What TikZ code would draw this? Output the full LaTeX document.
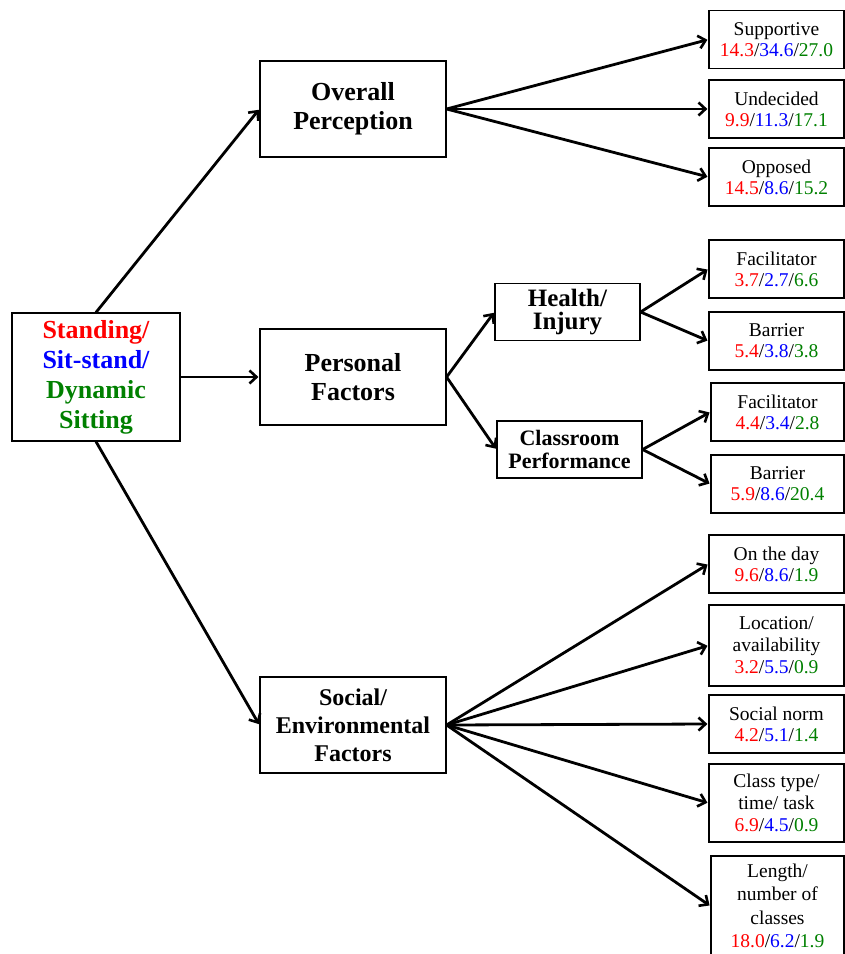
\documentclass[tikz,border=0pt]{standalone}
\usepackage{fontspec}
\setmainfont{Liberation Serif}
\usetikzlibrary{arrows.meta}
\definecolor{sred}{RGB}{255,0,0}
\definecolor{sblue}{RGB}{0,0,255}
\definecolor{sgreen}{RGB}{0,128,0}
\newcommand{\trio}[3]{\textcolor{sred}{#1}/\textcolor{sblue}{#2}/\textcolor{sgreen}{#3}}
\tikzset{
  box/.style={draw, line width=1.2pt, align=center, inner sep=0pt},
  bigbox/.style={box, minimum width=186pt, minimum height=96pt, font=\fontsize{26}{29}\selectfont\bfseries},
  subbox/.style={box, minimum width=145pt, minimum height=57pt},
  leafbox/.style={box, minimum width=135pt, minimum height=58pt, font=\fontsize{19.5}{21}\selectfont},
  link/.style={line width=2.8pt, shorten >=1pt, -{Straight Barb[length=7pt,width=13pt,line width=2.6pt]}}
}

\begin{document}
\begin{tikzpicture}[x=1pt,y=-1pt]
\useasboundingbox (0,0) rectangle (845,954);

\node[box, minimum width=168pt, minimum height=128pt, font=\fontsize{26}{30}\selectfont\bfseries] (main) at (96,377)
  {\textcolor{sred}{Standing/}\\\textcolor{sblue}{Sit-stand/}\\\textcolor{sgreen}{Dynamic}\\\textcolor{sgreen}{Sitting}};

\node[bigbox] (overall) at (353,109) {Overall\\Perception};
\node[bigbox] (personal) at (353,377) {Personal\\Factors};
\node[bigbox, font=\fontsize{24}{28}\selectfont\bfseries] (social) at (353,725) {Social/\\Environmental\\Factors};

\node[subbox, font=\fontsize{25}{23}\selectfont\bfseries] (health) at (567.5,312) {Health/\\Injury};
\node[subbox, font=\fontsize{22}{23}\selectfont\bfseries] (classroom) at (569.5,449.5) {Classroom\\Performance};

\node[leafbox] (supportive) at (776.5,39.5) {Supportive\\\trio{14.3}{34.6}{27.0}};
\node[leafbox] (undecided) at (776.5,109) {Undecided\\\trio{9.9}{11.3}{17.1}};
\node[leafbox] (opposed) at (776.5,177) {Opposed\\\trio{14.5}{8.6}{15.2}};

\node[leafbox] (facA) at (776.5,269) {Facilitator\\\trio{3.7}{2.7}{6.6}};
\node[leafbox] (barA) at (776.5,341) {Barrier\\\trio{5.4}{3.8}{3.8}};
\node[leafbox, minimum width=133pt] (facB) at (777.5,412) {Facilitator\\\trio{4.4}{3.4}{2.8}};
\node[leafbox, minimum width=133pt] (barB) at (777.5,484) {Barrier\\\trio{5.9}{8.6}{20.4}};

\node[leafbox] (onday) at (776.5,564) {On the day\\\trio{9.6}{8.6}{1.9}};
\node[leafbox, minimum height=81pt, font=\fontsize{19.5}{22}\selectfont] (location) at (776.5,645.5) {Location/\\availability\\\trio{3.2}{5.5}{0.9}};
\node[leafbox] (norm) at (776.5,724) {Social norm\\\trio{4.2}{5.1}{1.4}};
\node[leafbox, minimum height=78pt, font=\fontsize{19.5}{22}\selectfont] (classtype) at (776.5,803) {Class type/\\time/ task\\\trio{6.9}{4.5}{0.9}};
\node[leafbox, minimum width=133pt, minimum height=100pt, font=\fontsize{19.5}{23.5}\selectfont] (length) at (777.5,906) {Length/\\number of\\classes\\\trio{18.0}{6.2}{1.9}};

\draw[link] (main.north) -- (overall.west);
\draw[link] (main.east) -- (personal.west);
\draw[link] (main.south) -- (social.west);

\draw[link] (overall.east) -- (supportive.west);
\draw[link] (overall.east) -- (undecided.west);
\draw[link] (overall.east) -- (opposed.west);

\draw[link] (personal.east) -- (health.west);
\draw[link] (personal.east) -- (classroom.west);
\draw[link] (health.east) -- (facA.west);
\draw[link] (health.east) -- (barA.west);
\draw[link] (classroom.east) -- (facB.west);
\draw[link] (classroom.east) -- (barB.west);

\draw[link] (social.east) -- (onday.west);
\draw[link] (social.east) -- (location.west);
\draw[link] (social.east) -- (norm.west);
\draw[link] (social.east) -- (classtype.west);
\draw[link] (social.east) -- (length.west);
\end{tikzpicture}
\end{document}
